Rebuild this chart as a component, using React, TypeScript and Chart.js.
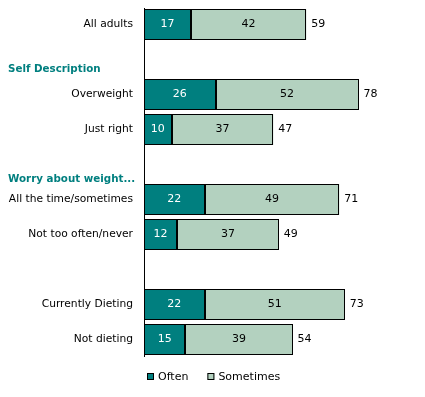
import React, { useEffect, useRef } from "react";
import { Chart, registerables } from "chart.js";

Chart.register(...registerables);

const categories = [
  "All adults",
  "Self Description",
  "Overweight",
  "Just right",
  "Worry about weight...",
  "All the time/sometimes",
  "Not too often/never",
  "",
  "Currently Dieting",
  "Not dieting",
];
const rowKinds = ["item", "header", "item", "item", "header", "item", "item", "blank", "item", "item"];
const often = [17, null, 26, 10, null, 22, 12, null, 22, 15];
const sometimes = [42, null, 52, 37, null, 49, 37, null, 51, 39];
const totals = [59, null, 78, 47, null, 71, 49, null, 73, 54];
const seriesNames = ["Often", "Sometimes"];

const TEAL = "#007f7f";
const LIGHT = "#b3d1bf";
const FONT = "'DejaVu Sans', Verdana, sans-serif";

const labelsPlugin = {
  id: "customLabels",
  afterDatasetsDraw(chart: any) {
    const { ctx, chartArea, scales } = chart;
    const y = scales.y;
    const x = scales.x;
    ctx.save();
    // bar outlines, crisp
    ctx.strokeStyle = "#000";
    ctx.lineWidth = 1;
    chart.data.datasets.forEach((ds: any, di: number) => {
      const meta = chart.getDatasetMeta(di);
      meta.data.forEach((bar: any, i: number) => {
        if (ds.data[i] == null) return;
        const x0 = Math.round(Math.min(bar.base, bar.x));
        const x1 = Math.round(Math.max(bar.base, bar.x));
        const y0 = Math.round(bar.y - bar.height / 2);
        const y1 = Math.round(bar.y + bar.height / 2);
        ctx.strokeRect(x0 + 0.5, y0 + 0.5, x1 - x0 - 1, y1 - y0 - 1);
      });
    });
    // axis line
    ctx.beginPath();
    ctx.moveTo(Math.round(chartArea.left) + 0.5, chartArea.top + 1);
    ctx.lineTo(Math.round(chartArea.left) + 0.5, chartArea.bottom);
    ctx.stroke();

    const headerShift: Record<number, number> = { 1: 12, 4: 17 };
    categories.forEach((cat, i) => {
      const cy = y.getPixelForValue(i);
      if (rowKinds[i] === "item") {
        ctx.font = `10.7px ${FONT}`;
        ctx.fillStyle = "#000";
        ctx.textAlign = "right";
        ctx.textBaseline = "middle";
        ctx.fillText(cat, chartArea.left - 11, cy);
      } else if (rowKinds[i] === "header") {
        ctx.font = `bold 10.3px ${FONT}`;
        ctx.fillStyle = TEAL;
        ctx.textAlign = "left";
        ctx.textBaseline = "alphabetic";
        ctx.fillText(cat, 8, cy + (headerShift[i] || 12));
      }
    });

    // segment values
    chart.data.datasets.forEach((ds: any, di: number) => {
      const meta = chart.getDatasetMeta(di);
      meta.data.forEach((bar: any, i: number) => {
        const v = ds.data[i];
        if (v == null) return;
        const cx = (bar.x + bar.base) / 2;
        ctx.font = `11px ${FONT}`;
        ctx.fillStyle = di === 0 ? "#fff" : "#000";
        ctx.textAlign = "center";
        ctx.textBaseline = "middle";
        ctx.fillText(String(v), cx, bar.y);
      });
    });

    // totals
    totals.forEach((t, i) => {
      if (t == null) return;
      ctx.font = `11px ${FONT}`;
      ctx.fillStyle = "#000";
      ctx.textAlign = "left";
      ctx.textBaseline = "middle";
      ctx.fillText(String(t), x.getPixelForValue(t) + 5, y.getPixelForValue(i));
    });

    // legend
    ctx.font = `11px ${FONT}`;
    const box = 7;
    const gapText = 4;
    const itemGap = 19;
    const widths = chart.data.datasets.map((ds: any) => box + gapText + ctx.measureText(ds.label).width);
    const totalW = widths.reduce((a: number, b: number) => a + b, 0) + itemGap * (widths.length - 1);
    let lx = Math.round(chart.width / 2 - totalW / 2) + 1;
    const ly = 377;
    chart.data.datasets.forEach((ds: any, di: number) => {
      ctx.fillStyle = ds.backgroundColor;
      ctx.fillRect(lx, ly - 4, box, box);
      ctx.strokeStyle = "#000";
      ctx.strokeRect(lx + 0.5, ly - 4 + 0.5, box - 1, box - 1);
      ctx.fillStyle = "#000";
      ctx.textAlign = "left";
      ctx.textBaseline = "middle";
      ctx.fillText(ds.label, lx + box + gapText, ly);
      lx += widths[di] + itemGap;
    });
    ctx.restore();
  },
};

export default function App() {
  const ref = useRef<HTMLCanvasElement>(null);
  useEffect(() => {
    if (!ref.current) return;
    const chart = new Chart(ref.current, {
      type: "bar",
      data: {
        labels: categories,
        datasets: [
          {
            label: seriesNames[0],
            data: often as any,
            backgroundColor: TEAL,
            borderWidth: 0,
            inflateAmount: 0,
            barThickness: 31,
          },
          {
            label: seriesNames[1],
            data: sometimes as any,
            backgroundColor: LIGHT,
            borderWidth: 0,
            inflateAmount: 0,
            barThickness: 31,
          },
        ],
      },
      options: {
        indexAxis: "y",
        responsive: false,
        animation: false,
        layout: { padding: { left: 144, right: 6, top: 7, bottom: 40 } },
        scales: {
          x: { stacked: true, min: 0, max: 100, display: false },
          y: { stacked: true, display: false },
        },
        plugins: {
          legend: { display: false },
          tooltip: { enabled: false },
        },
      },
      plugins: [labelsPlugin],
    });
    return () => chart.destroy();
  }, []);
  return (
    <div style={{ position: "absolute", left: 0, top: 0, width: 425, height: 397, background: "#fff" }}>
      <canvas ref={ref} width={425} height={397} />
    </div>
  );
}
